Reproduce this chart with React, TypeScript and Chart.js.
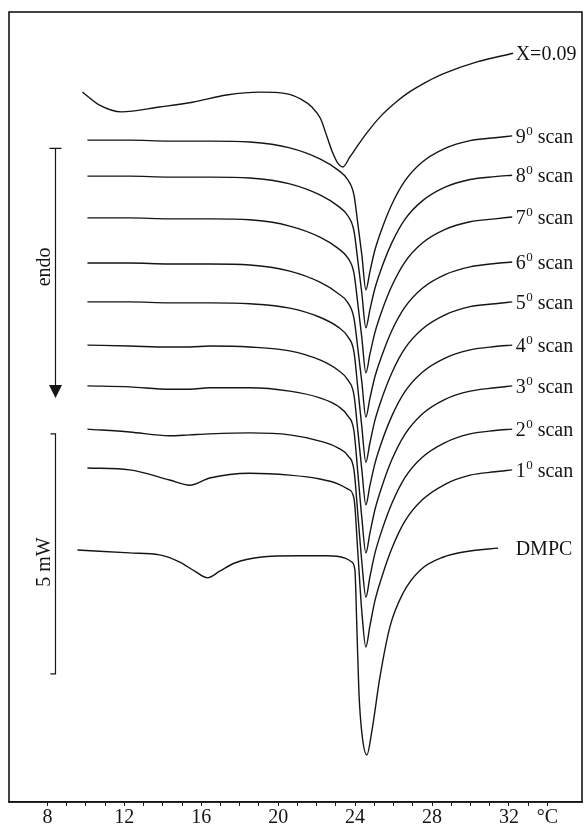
import React, { useEffect, useRef } from "react";
import { Chart, registerables } from "chart.js";

Chart.register(...registerables);

const FONT = '"Liberation Serif", "Times New Roman", serif';
const INK = "#151515";

// x axis (temperature, °C)
const tickValues = [8, 9, 10, 11, 12, 13, 14, 15, 16, 17, 18, 19, 20, 21, 22, 23, 24, 25, 26, 27, 28, 29, 30, 31, 32, 33, 34];
const labelledTicks = [8, 12, 16, 20, 24, 28, 32];
const unitTick = 34;
const unitLabel = "°C";

// X = 0.09 curve (heat flow, mW, arbitrary offset)
const x09T = [9.82, 10.71, 11.85, 13.83, 15.55, 17.32, 19.04, 20.40, 21.20, 21.75, 22.20, 22.53, 22.84, 23.10, 23.36, 23.73, 24.09, 24.61, 25.29, 26.18, 26.85, 27.60, 28.57, 30.34, 32.22];
const x09Vals = [14.79, 14.52, 14.38, 14.48, 14.58, 14.73, 14.79, 14.76, 14.64, 14.48, 14.24, 13.87, 13.52, 13.31, 13.23, 13.44, 13.65, 13.94, 14.27, 14.60, 14.80, 14.98, 15.17, 15.42, 15.60];

// heating scans 9..1
const scanT = [10.08, 12.27, 14.35, 15.40, 16.44, 18.52, 20.60, 22.17, 23.10, 23.63, 23.94, 24.15, 24.35, 24.56, 24.77, 25.03, 25.40, 25.92, 26.59, 27.48, 28.68, 29.98, 31.28, 32.17];
const scan9 = [13.79, 13.79, 13.77, 13.77, 13.77, 13.75, 13.63, 13.40, 13.17, 12.96, 12.65, 12.02, 11.40, 10.67, 11.05, 11.50, 11.95, 12.46, 12.94, 13.33, 13.62, 13.78, 13.84, 13.88];
const scan8 = [13.04, 13.04, 13.02, 13.02, 13.02, 13.00, 12.88, 12.65, 12.42, 12.21, 11.90, 11.25, 10.60, 9.88, 10.26, 10.70, 11.15, 11.66, 12.14, 12.52, 12.81, 12.97, 13.03, 13.06];
const scan7 = [12.17, 12.17, 12.15, 12.15, 12.15, 12.13, 12.00, 11.77, 11.54, 11.33, 11.02, 10.35, 9.67, 8.94, 9.33, 9.78, 10.24, 10.76, 11.25, 11.64, 11.93, 12.09, 12.15, 12.19];
const scan6 = [11.23, 11.23, 11.21, 11.21, 11.21, 11.19, 11.06, 10.83, 10.60, 10.40, 10.08, 9.42, 8.75, 8.02, 8.41, 8.86, 9.31, 9.83, 10.31, 10.70, 10.99, 11.15, 11.22, 11.25];
const scan5 = [10.42, 10.42, 10.40, 10.40, 10.40, 10.38, 10.29, 10.10, 9.90, 9.69, 9.38, 8.59, 7.81, 7.08, 7.48, 7.95, 8.42, 8.95, 9.45, 9.85, 10.15, 10.32, 10.38, 10.42];
const scan4 = [9.52, 9.50, 9.48, 9.48, 9.50, 9.48, 9.40, 9.21, 9.00, 8.79, 8.48, 7.70, 6.92, 6.19, 6.59, 7.05, 7.52, 8.05, 8.55, 8.95, 9.25, 9.42, 9.49, 9.52];
const scan3 = [8.67, 8.65, 8.60, 8.60, 8.63, 8.63, 8.56, 8.42, 8.25, 8.04, 7.73, 6.82, 5.92, 5.19, 5.60, 6.09, 6.58, 7.14, 7.66, 8.08, 8.39, 8.56, 8.63, 8.67];
const scan2 = [7.77, 7.71, 7.63, 7.65, 7.67, 7.69, 7.65, 7.52, 7.38, 7.21, 6.92, 5.96, 5.00, 4.27, 4.69, 5.18, 5.67, 6.23, 6.76, 7.18, 7.49, 7.67, 7.74, 7.77];
const scan1 = [6.96, 6.92, 6.71, 6.60, 6.75, 6.85, 6.81, 6.73, 6.63, 6.52, 6.33, 5.15, 3.96, 3.23, 3.67, 4.19, 4.70, 5.29, 5.85, 6.29, 6.62, 6.81, 6.88, 6.92];

// pure DMPC
const dmpcT = [9.56, 12.27, 13.83, 14.88, 15.66, 16.33, 16.96, 17.74, 19.04, 21.13, 22.53, 23.47, 23.83, 23.99, 24.09, 24.20, 24.35, 24.61, 24.88, 25.29, 25.81, 26.49, 27.38, 28.57, 29.98, 31.44];
const dmpcVals = [5.25, 5.19, 5.15, 5.00, 4.81, 4.67, 4.81, 4.98, 5.10, 5.13, 5.13, 5.08, 5.00, 4.83, 3.65, 2.27, 1.44, 0.98, 1.50, 2.60, 3.65, 4.35, 4.83, 5.10, 5.23, 5.29];

const scanNames = ["9", "8", "7", "6", "5", "4", "3", "2", "1"];
const scanSets = [scan9, scan8, scan7, scan6, scan5, scan4, scan3, scan2, scan1];

// annotation positions (data units)
const labelT = 32.35;
const markerT = 8.4;
const endoRange = [13.62, 8.42];
const scaleBarRange = [7.67, 2.67];
const sideTextT = 7.84;
const endoTextY = 11.15;
const mwTextY = 5.0;

export default function App() {
  const ref = useRef<HTMLCanvasElement>(null);

  useEffect(() => {
    document.body.style.margin = "0";
    const canvas = ref.current;
    if (!canvas) return;
    const ctx = canvas.getContext("2d");
    if (!ctx) return;

    type Series = { kind: "plain" | "scan"; name: string; t: number[]; v: number[] };
    const series: Series[] = [
      { kind: "plain", name: "X=0.09", t: x09T, v: x09Vals },
      ...scanSets.map((v, i) => ({ kind: "scan" as const, name: scanNames[i], t: scanT, v })),
      { kind: "plain", name: "DMPC", t: dmpcT, v: dmpcVals },
    ];

    const decor = {
      id: "decor",
      afterDraw(chart: any) {
        const c = chart.ctx as CanvasRenderingContext2D;
        const xs = chart.scales.x;
        const ys = chart.scales.y;
        const a = chart.chartArea;
        c.save();
        // frame
        c.strokeStyle = INK;
        c.lineWidth = 1.6;
        c.strokeRect(a.left, a.top, a.right - a.left, a.bottom - a.top);

        // right labels
        c.fillStyle = INK;
        c.textBaseline = "alphabetic";
        c.textAlign = "left";
        const lx = xs.getPixelForValue(labelT);
        series.forEach((s) => {
          const ly = ys.getPixelForValue(s.v[s.v.length - 1]) + 7;
          c.font = `20px ${FONT}`;
          if (s.kind === "plain") {
            c.fillText(s.name, lx, ly);
          } else {
            c.fillText(s.name, lx, ly);
            let w = c.measureText(s.name).width;
            c.font = `13px ${FONT}`;
            c.fillText("0", lx + w + 0.5, ly - 8);
            w += c.measureText("0").width + 0.5;
            c.font = `20px ${FONT}`;
            c.fillText(" scan", lx + w, ly);
          }
        });

        // endo arrow
        const mx = Math.round(xs.getPixelForValue(markerT)) + 0.5;
        const eTop = ys.getPixelForValue(endoRange[0]);
        const eTip = ys.getPixelForValue(endoRange[1]);
        c.lineWidth = 1.2;
        c.beginPath();
        c.moveTo(mx, eTop);
        c.lineTo(mx, eTip - 10);
        c.moveTo(mx - 6, eTop);
        c.lineTo(mx + 6, eTop);
        c.stroke();
        c.beginPath();
        c.moveTo(mx - 6.5, eTip - 13);
        c.lineTo(mx + 6.5, eTip - 13);
        c.lineTo(mx, eTip);
        c.closePath();
        c.fill();

        // 5 mW bar
        const sTop = ys.getPixelForValue(scaleBarRange[0]);
        const sBot = ys.getPixelForValue(scaleBarRange[1]);
        c.beginPath();
        c.moveTo(mx - 5, sTop);
        c.lineTo(mx, sTop);
        c.lineTo(mx, sBot);
        c.lineTo(mx - 5, sBot);
        c.stroke();

        // rotated texts
        const tx = xs.getPixelForValue(sideTextT);
        c.font = `20px ${FONT}`;
        c.textAlign = "center";
        c.textBaseline = "middle";
        [["endo", endoTextY], ["5 mW", mwTextY]].forEach(([txt, yv]) => {
          c.save();
          c.translate(tx, ys.getPixelForValue(yv as number));
          c.rotate(-Math.PI / 2);
          c.fillText(txt as string, 0, 0);
          c.restore();
        });
        c.restore();
      },
    };

    const chart = new Chart(ctx, {
      type: "line",
      data: {
        datasets: series.map((s) => ({
          label: s.name,
          data: s.t.map((t, i) => ({ x: t, y: s.v[i] })),
          borderColor: INK,
          borderWidth: 1.4,
          pointRadius: 0,
          fill: false,
          cubicInterpolationMode: "monotone" as const,
        })),
      },
      options: {
        responsive: false,
        animation: false,
        layout: { padding: { left: 9, right: 2, top: 12, bottom: 0 } },
        plugins: { legend: { display: false }, tooltip: { enabled: false } },
        scales: {
          x: {
            type: "linear",
            min: 6,
            max: 35.8,
            afterBuildTicks: (s: any) => {
              s.ticks = tickValues.map((v) => ({ value: v }));
            },
            afterFit: (s: any) => {
              s.height = 26;
            },
            ticks: {
              autoSkip: false,
              maxRotation: 0,
              minRotation: 0,
              padding: 0,
              color: INK,
              font: { family: FONT, size: 20 },
              callback: (v: any) => {
                const n = Number(v);
                if (n === unitTick) return unitLabel;
                return labelledTicks.includes(n) ? String(n) : "";
              },
            },
            grid: { drawOnChartArea: false, drawTicks: true, tickLength: 4, color: INK, lineWidth: 1 },
            border: { display: true, color: INK, width: 1.6 },
          },
          y: { type: "linear", min: 0, max: 16.46, display: false },
        },
      },
      plugins: [decor],
    } as any);

    return () => chart.destroy();
  }, []);

  return (
    <div style={{ position: "absolute", left: 0, top: 0, width: 584, height: 828, background: "#fff" }}>
      <canvas ref={ref} width={584} height={828} style={{ width: 584, height: 828, display: "block" }} />
    </div>
  );
}
